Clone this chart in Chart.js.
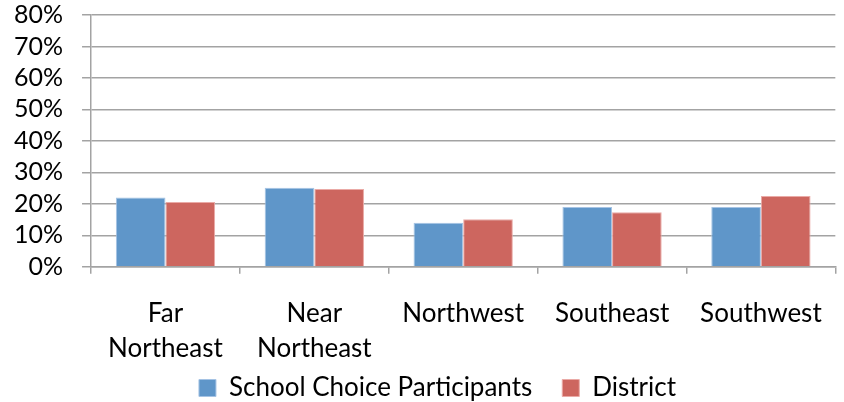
<!DOCTYPE html>
<html>
<head>
<meta charset="utf-8">
<script src="https://cdn.jsdelivr.net/npm/chart.js@4/dist/chart.umd.min.js"></script>
<style>
  html, body { margin: 0; padding: 0; background: #fff; }
  #wrap { width: 844px; height: 402px; position: relative; }
</style>
</head>
<body>
<div id="wrap"><canvas id="chart"></canvas></div>
<script>
// Regions (two-line labels where they wrap)
const regions = [['Far', 'Northeast'], ['Near', 'Northeast'], 'Northwest', 'Southeast', 'Southwest'];
// Share of students by region, in percent
const schoolChoice = [22.0, 25.1, 14.0, 19.0, 19.0];
const district = [20.6, 24.7, 15.1, 17.3, 22.5];
// Value axis ticks, in percent
const yTicks = [0, 10, 20, 30, 40, 50, 60, 70, 80];

const GRID = '#a3a3a3';
const FONT = 'Lato, "Liberation Sans", Arial, sans-serif';

// Legend: keep wide spacing between entries but a compact band under the axis
const LEGEND_BAND = 14;      // height reserved for the legend
const LEGEND_ROW_CENTER = 388;
const LEGEND_SHIFT_X = 10;
const legendPlacement = {
  id: 'legendPlacement',
  beforeLayout(chart) {
    const lg = chart.legend;
    if (lg && !lg._bandFit) {
      const fit = lg.fit;
      lg.fit = function () {
        fit.call(this);
        this.height = LEGEND_BAND;
      };
      lg._bandFit = true;
    }
  },
  beforeDraw(chart) {
    const lg = chart.legend;
    if (!lg) return;
    const pad = lg.options.labels.padding;
    const itemH = lg.options.labels.font.size;
    lg.top = LEGEND_ROW_CENTER - itemH / 2 - pad;
    lg.bottom = chart.height;
    lg.left += LEGEND_SHIFT_X;
    lg.right += LEGEND_SHIFT_X;
  }
};

new Chart(document.getElementById('chart'), {
  type: 'bar',
  data: {
    labels: regions,
    datasets: [
      {
        label: 'School Choice Participants',
        data: schoolChoice,
        backgroundColor: '#5F96C9',
        borderColor: '#A5C3E4',
        borderWidth: 1
      },
      {
        label: 'District',
        data: district,
        backgroundColor: '#CD665F',
        borderColor: '#EAAAA6',
        borderWidth: 1
      }
    ]
  },
  plugins: [legendPlacement],
  options: {
    responsive: true,
    maintainAspectRatio: false,
    animation: false,
    layout: { padding: { top: 1, right: 3, left: 14, bottom: 0 } },
    datasets: {
      bar: { categoryPercentage: 0.667, barPercentage: 1.0 }
    },
    scales: {
      x: {
        grid: {
          drawOnChartArea: false,
          color: GRID,
          lineWidth: 1.5,
          tickLength: 7,
          offset: true
        },
        border: { color: GRID, width: 1.5 },
        ticks: {
          color: '#000',
          padding: 22,
          maxRotation: 0,
          autoSkip: false,
          font: { family: FONT, size: 26, lineHeight: 1.35 }
        }
      },
      y: {
        min: 0,
        max: 80,
        afterBuildTicks: (axis) => { axis.ticks = yTicks.map(v => ({ value: v })); },
        grid: {
          color: GRID,
          lineWidth: 1.5,
          // space between labels and axis; only the 9px next to the axis is stroked
          tickLength: 28,
          tickBorderDash: [9, 19],
          tickBorderDashOffset: 9
        },
        border: { color: GRID, width: 1.5 },
        ticks: {
          color: '#000',
          padding: 0,
          autoSkip: false,
          font: { family: FONT, size: 25 },
          callback: (v) => v + '%'
        }
      }
    },
    plugins: {
      tooltip: { enabled: false },
      legend: {
        position: 'bottom',
        labels: {
          color: '#000',
          boxWidth: 17,
          boxHeight: 17,
          padding: 30,
          font: { family: FONT, size: 26 }
        }
      }
    }
  }
});
</script>
</body>
</html>
